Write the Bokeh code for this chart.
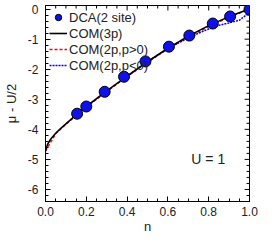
from bokeh.plotting import figure
from bokeh.models import SingleIntervalTicker, NumeralTickFormatter, Range1d, Legend, LegendItem
from bokeh.core.properties import value
from bokeh.embed import file_html
from bokeh.resources import INLINE

# DCA (2 site) points
dca_n = [0.155, 0.2, 0.29, 0.385, 0.49, 0.605, 0.705, 0.82, 0.905, 1.0]
dca_mu = [-3.48, -3.24, -2.75, -2.25, -1.74, -1.25, -0.88, -0.48, -0.245, -0.01]

# COM(3p)
com3_n = [0.0, 0.01, 0.025, 0.05, 0.075, 0.1, 0.15, 0.2, 0.3, 0.4, 0.5, 0.6, 0.7, 0.8, 0.9, 1.0]
com3_mu = [-4.72, -4.5, -4.33, -4.13, -3.97, -3.82, -3.52, -3.24, -2.72, -2.23, -1.75, -1.3, -0.9, -0.55, -0.25, 0.0]

# COM(2p, p>0)
com2a_n = [0.0, 0.05, 0.1, 0.15, 0.2, 0.3, 0.4, 0.5, 0.6, 0.7, 0.8, 0.9, 1.0]
com2a_mu = [-4.72, -4.14, -3.83, -3.54, -3.26, -2.74, -2.25, -1.77, -1.32, -0.93, -0.58, -0.27, 0.0]

# COM(2p, p<0)
com2b_n = [0.4, 0.5, 0.55, 0.6, 0.65, 0.7, 0.75, 0.8, 0.85, 0.9, 0.95, 0.98, 1.0]
com2b_mu = [-2.23, -1.75, -1.53, -1.32, -1.13, -0.96, -0.8, -0.66, -0.54, -0.46, -0.37, -0.22, 0.0]

# axis ranges and tick positions (mirror ticks on top/right)
X_MIN, X_MAX = 0.0, 1.0
Y_MIN, Y_MAX = -6.4, 0.12
x_major = [0.0, 0.2, 0.4, 0.6, 0.8, 1.0]
x_minor = [0.05, 0.1, 0.15, 0.25, 0.3, 0.35, 0.45, 0.5, 0.55, 0.65, 0.7, 0.75, 0.85, 0.9, 0.95]
y_major = [-6, -5, -4, -3, -2, -1, 0]
y_minor = [-6.2, -5.8, -5.6, -5.4, -5.2, -4.8, -4.6, -4.4, -4.2, -3.8, -3.6, -3.4, -3.2,
           -2.8, -2.6, -2.4, -2.2, -1.8, -1.6, -1.4, -1.2, -0.8, -0.6, -0.4, -0.2]

FONT = "Liberation Sans"
W, H = 258, 236

p = figure(width=W, height=H, output_backend="svg", toolbar_location=None,
           x_range=Range1d(X_MIN, X_MAX), y_range=Range1d(Y_MIN, Y_MAX),
           min_border_left=2, min_border_right=9, min_border_top=5, min_border_bottom=0,
           x_axis_label="n", y_axis_label="\u03bc - U/2")
p.grid.visible = False
p.outline_line_color = "black"
p.background_fill_color = "white"

p.xaxis.ticker = SingleIntervalTicker(interval=0.2, num_minor_ticks=4)
p.yaxis.ticker = SingleIntervalTicker(interval=1, num_minor_ticks=5)
p.xaxis.formatter = NumeralTickFormatter(format="0.0")
p.yaxis.formatter = NumeralTickFormatter(format="0")

for ax in [p.xaxis[0], p.yaxis[0]]:
    ax.major_tick_in = 5
    ax.major_tick_out = 0
    ax.minor_tick_in = 3
    ax.minor_tick_out = 0
    ax.axis_line_color = "black"
    ax.major_tick_line_color = "black"
    ax.minor_tick_line_color = "black"
    ax.major_label_text_font = FONT
    ax.major_label_text_font_size = "12px"
    ax.major_label_text_color = "#222222"
    ax.axis_label_text_font = FONT
    ax.axis_label_text_font_size = "13px"
    ax.axis_label_text_font_style = "normal"
    ax.axis_label_text_color = "#222222"

p.xaxis.major_label_standoff = 5
p.xaxis.axis_label_standoff = 0
p.yaxis.major_label_standoff = 7
p.yaxis.axis_label_standoff = 6

# mirror ticks (top and right), lengths converted from approximate pixels to data units
frame_w = 208
frame_h = 197
dy_per_px = (Y_MAX - Y_MIN) / frame_h
dx_per_px = (X_MAX - X_MIN) / frame_w
p.segment(x0=x_major, y0=[Y_MAX] * len(x_major), x1=x_major,
          y1=[Y_MAX - 5 * dy_per_px] * len(x_major), line_color="black", line_width=1)
p.segment(x0=x_minor, y0=[Y_MAX] * len(x_minor), x1=x_minor,
          y1=[Y_MAX - 3 * dy_per_px] * len(x_minor), line_color="black", line_width=1)
p.segment(x0=[X_MAX] * len(y_major), y0=y_major, x1=[X_MAX - 5 * dx_per_px] * len(y_major),
          y1=y_major, line_color="black", line_width=1)
p.segment(x0=[X_MAX] * len(y_minor), y0=y_minor, x1=[X_MAX - 3 * dx_per_px] * len(y_minor),
          y1=y_minor, line_color="black", line_width=1)

r_red = p.line(com2a_n, com2a_mu, line_color="#ff0000", line_width=1.5, line_dash="3 2")
r_blue = p.line(com2b_n, com2b_mu, line_color="#0000ff", line_width=1.5, line_dash="2 1")
r_black = p.line(com3_n, com3_mu, line_color="black", line_width=1.6)
r_dca = p.scatter(dca_n, dca_mu, marker="circle", size=11, fill_color="#1010e8",
                  line_color="black", line_width=1)

p.text(x=[0.715], y=[-5.0], text=["U = 1"], text_font=value(FONT), text_font_size="14px",
       text_baseline="middle", text_align="left", text_color="#222222")

legend = Legend(items=[
    LegendItem(label="DCA(2 site)", renderers=[r_dca]),
    LegendItem(label="COM(3p)", renderers=[r_black]),
    LegendItem(label="COM(2p,p>0)", renderers=[r_red]),
    LegendItem(label="COM(2p,p<0)", renderers=[r_blue]),
], location="top_left")
legend.border_line_color = None
legend.background_fill_alpha = 0
legend.margin = 4
legend.padding = 0
legend.spacing = 0
legend.label_height = 16
legend.glyph_height = 16
legend.glyph_width = 18
legend.label_standoff = 2
legend.label_text_font = FONT
legend.label_text_font_size = "13px"
legend.label_text_color = "#222222"
p.add_layout(legend)

open("out.html", "w").write(file_html(p, INLINE))
